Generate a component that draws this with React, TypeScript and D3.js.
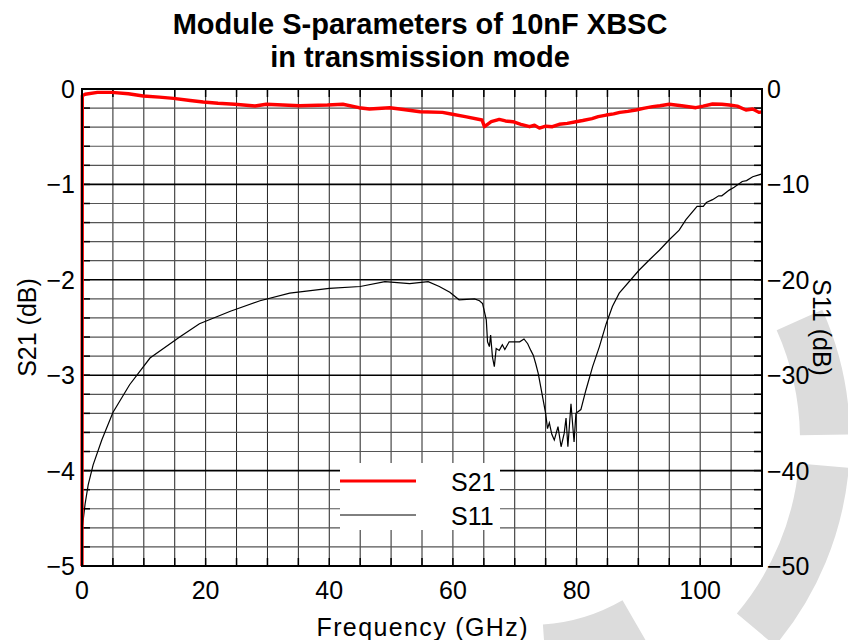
import React from 'react';
import * as d3 from 'd3';

// S21 (left axis, dB)
const freq21 = [0, 0.05, 0.5, 2.5, 4.8, 7.5, 9.9, 12.5, 14.8, 17.5, 19.6, 22, 24.7, 28, 29.8, 32.5, 35.2, 39.7, 42.2, 44.8, 46.5, 49.8, 52, 54.7, 58.3, 59.7, 62, 64.7, 65.1, 65.6, 66.2, 67.5, 68.5, 69.7, 71, 72.4, 73.2, 74, 75, 76.1, 77.2, 78.5, 79.9, 81, 82.5, 83.5, 84.8, 86, 87, 88.3, 89.6, 91, 92.3, 93.5, 95, 97, 99.3, 100.5, 102, 103.5, 104.7, 106, 107.4, 108.5, 109.5, 110];
const s21 = [-5, -0.07, -0.055, -0.035, -0.035, -0.05, -0.073, -0.085, -0.098, -0.12, -0.136, -0.15, -0.16, -0.178, -0.16, -0.168, -0.175, -0.168, -0.16, -0.196, -0.21, -0.196, -0.215, -0.238, -0.245, -0.262, -0.29, -0.325, -0.395, -0.37, -0.343, -0.318, -0.335, -0.343, -0.37, -0.395, -0.38, -0.41, -0.39, -0.395, -0.37, -0.36, -0.343, -0.33, -0.31, -0.29, -0.273, -0.26, -0.245, -0.235, -0.22, -0.2, -0.185, -0.175, -0.16, -0.175, -0.196, -0.18, -0.157, -0.16, -0.168, -0.18, -0.22, -0.21, -0.245, -0.24];

// S11 (right axis, dB)
const freq11 = [0.1, 0.5, 1, 1.8, 3.2, 5, 7.7, 11, 15.8, 19, 24, 28.8, 33.6, 40, 45, 49, 53, 56, 57.8, 59.5, 61, 63.5, 64.3, 64.8, 65.4, 65.6, 65.9, 66.1, 66.4, 66.7, 67, 67.5, 68, 68.4, 69.1, 70.8, 71.5, 72.1, 72.6, 73, 73.4, 73.8, 74.2, 75, 75.3, 75.6, 76, 76.4, 77, 77.5, 78, 78.3, 78.6, 79.1, 79.6, 79.9, 80.7, 81.5, 82.6, 83.7, 84.8, 85.8, 86.9, 90.1, 91.8, 93.4, 95, 96.6, 97.7, 99.5, 100.5, 101, 102, 103, 103.5, 104.7, 105.5, 106.8, 107.5, 108.5, 109.5, 110];
const s11 = [-45.7, -43.5, -41.5, -39.4, -36.8, -33.9, -31, -28.2, -26, -24.6, -23.3, -22.2, -21.4, -20.9, -20.7, -20.2, -20.4, -20.2, -20.7, -21.3, -22.1, -22, -22.2, -22.5, -24.2, -26.5, -27, -25.8, -28.1, -29.1, -27.2, -27.4, -26.8, -27.3, -26.5, -26.5, -26.2, -26.7, -27.4, -27.9, -28.8, -29.8, -31.2, -34, -35.6, -35, -36.2, -36.8, -35.4, -37.5, -36.1, -34.5, -37.5, -33, -37, -34, -33.6, -31.6, -29.1, -27, -24.6, -22.8, -21.4, -19, -17.9, -16.9, -15.8, -14.8, -13.7, -12.3, -12.3, -11.9, -11.6, -11.2, -11.2, -10.6, -10.3, -9.7, -9.6, -9.2, -9.0, -8.9];

const xTicks = [0, 20, 40, 60, 80, 100];
const leftTicks = [0, -1, -2, -3, -4, -5];
const rightTicks = [0, -10, -20, -30, -40, -50];

const W = 848;
const H = 640;
const M = { left: 82, right: 762, top: 89, bottom: 566 };
const FONT = '"Liberation Sans", Arial, sans-serif';

export default function App() {
  const x = d3.scaleLinear().domain([0, 110]).range([M.left, M.right]);
  const yL = d3.scaleLinear().domain([-5, 0]).range([M.bottom, M.top]);
  const yR = d3.scaleLinear().domain([-50, 0]).range([M.bottom, M.top]);

  const line21 = d3.line<number>().x((d, i) => x(freq21[i])).y((d) => yL(d));
  const line11 = d3.line<number>().x((d, i) => x(freq11[i])).y((d) => yR(d));

  const vGrid = d3.range(5, 110, 5);
  const hGrid = d3.range(1, 25).map((i) => -i * 0.2);

  // watermark ring pieces behind the plot
  const cx = 530, cy = 440;
  const ring = d3.arc<[number, number, number, number]>()
    .innerRadius((d) => d[2])
    .outerRadius((d) => d[3])
    .startAngle((d) => (d[0] * Math.PI) / 180)
    .endAngle((d) => (d[1] * Math.PI) / 180);
  const pieces: [number, number, number, number][] = [[66, 89, 270, 320], [95, 130, 270, 320], [150, 176, 185, 235]];

  const fmt = (v: number) => (v < 0 ? '\u2212' + Math.abs(v) : String(v));

  return (
    <svg width={W} height={H} style={{ position: 'absolute', left: 0, top: 0, background: '#fff' }}
      fontFamily={FONT}>
      <g transform={`translate(${cx},${cy})`}>
        {pieces.map((p, i) => (
          <path key={i} d={ring(p) || ''} fill="#dcdcdc" />
        ))}
      </g>

      <rect x={M.left} y={M.top} width={M.right - M.left} height={M.bottom - M.top} fill="#fff" />

      {vGrid.map((v) => (
        <line key={'v' + v} x1={x(v)} x2={x(v)} y1={M.top} y2={M.bottom} stroke="#222" strokeWidth={1} />
      ))}
      {hGrid.map((v, i) => (
        <line key={'h' + i} x1={M.left} x2={M.right} y1={yL(v)} y2={yL(v)}
          stroke={(i + 1) % 5 === 0 ? '#000' : '#555'} strokeWidth={(i + 1) % 5 === 0 ? 1.6 : 1.2} />
      ))}

      {/* inward ticks */}
      {vGrid.map((v) => (
        <g key={'tx' + v}>
          <line x1={x(v)} x2={x(v)} y1={M.bottom} y2={M.bottom - 8} stroke="#000" strokeWidth={1.5} />
          <line x1={x(v)} x2={x(v)} y1={M.top} y2={M.top + 8} stroke="#000" strokeWidth={1.5} />
        </g>
      ))}
      {hGrid.map((v, i) => (
        <g key={'ty' + i}>
          <line x1={M.left} x2={M.left + 8} y1={yL(v)} y2={yL(v)} stroke="#000" strokeWidth={1.5} />
          <line x1={M.right} x2={M.right - 8} y1={yL(v)} y2={yL(v)} stroke="#000" strokeWidth={1.5} />
        </g>
      ))}

      <path d={line11(s11) || ''} fill="none" stroke="#000" strokeWidth={1.2} />
      <path d={line21(s21) || ''} fill="none" stroke="#ff0000" strokeWidth={3.4} strokeLinejoin="round" />

      <rect x={M.left} y={M.top} width={M.right - M.left} height={M.bottom - M.top}
        fill="none" stroke="#000" strokeWidth={2} />

      {/* legend */}
      <rect x={340} y={463} width={160} height={67} fill="#fff" />
      <line x1={340} x2={416} y1={481} y2={481} stroke="#ff0000" strokeWidth={3} />
      <line x1={340} x2={416} y1={515} y2={515} stroke="#000" strokeWidth={1} />
      <text x={451} y={491} fontSize={25}>S21</text>
      <text x={451} y={525} fontSize={25}>S11</text>

      {/* axes labels */}
      {xTicks.map((t) => (
        <text key={'xl' + t} x={x(t)} y={599} fontSize={25} textAnchor="middle">{t}</text>
      ))}
      {leftTicks.map((t) => (
        <text key={'ll' + t} x={75} y={yL(t) + 9} fontSize={25} textAnchor="end">{fmt(t)}</text>
      ))}
      {rightTicks.map((t) => (
        <text key={'rl' + t} x={767} y={yR(t) + 9} fontSize={25} textAnchor="start">{fmt(t)}</text>
      ))}

      <text x={(M.left + M.right) / 2} y={636} fontSize={25} textAnchor="middle"
        textLength={211} lengthAdjust="spacing">Frequency (GHz)</text>
      <text transform={`translate(36,${(M.top + M.bottom) / 2}) rotate(-90)`} fontSize={25} textAnchor="middle">S21 (dB)</text>
      <text transform={`translate(813,${(M.top + M.bottom) / 2}) rotate(90)`} fontSize={25} textAnchor="middle">S11 (dB)</text>

      <text x={420} y={34} fontSize={29} fontWeight="bold" textAnchor="middle">Module S-parameters of 10nF XBSC</text>
      <text x={420} y={67} fontSize={29} fontWeight="bold" textAnchor="middle">in transmission mode</text>
    </svg>
  );
}
